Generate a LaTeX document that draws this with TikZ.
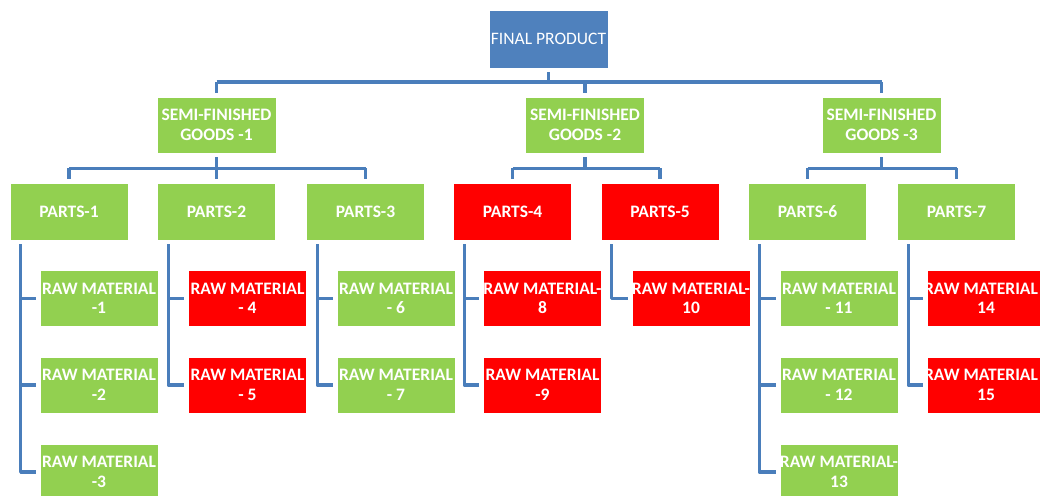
\documentclass[tikz,border=0pt]{standalone}
\usepackage{fontspec}
\setmainfont{Carlito}
\usepackage{tikz}
\usetikzlibrary{calc}
\definecolor{top}{HTML}{4F81BD}
\definecolor{leaf}{HTML}{92D050}
\definecolor{alert}{HTML}{FF0000}
\definecolor{wire}{HTML}{4A7EBB}
\newcommand\fitline[1]{\hbox to 118pt{\hss#1\hss}}
\newcommand\shiftline[1]{\hbox to 118pt{\hss#1\hskip 10pt\hss}}
\tikzset{
  box/.style={draw=white, line width=0.6pt, minimum width=118pt, minimum height=56pt,
    inner sep=0pt, align=center, text=white, font=\bfseries\fontsize{17.5}{19.5}\selectfont},
  gbox/.style={box, fill=leaf},
  rbox/.style={box, fill=alert},
  conn/.style={draw=wire, line width=3.2pt, line join=round}
}
\begin{document}
\begin{tikzpicture}[x=1pt, y=-1pt]
  \useasboundingbox (0,0) rectangle (1040,495);

  % top level
  \node[box, fill=top, minimum width=119pt, minimum height=58pt,
        font=\fontsize{17.5}{19.5}\selectfont] (fp) at (548.5,39) {FINAL PRODUCT};

  % semi-finished goods
  \node[gbox, minimum width=119pt] (sf1) at (216.5,125) {SEMI-FINISHED\\GOODS -1};
  \node[gbox, minimum width=119pt] (sf2) at (585,125) {SEMI-FINISHED\\GOODS -2};
  \node[gbox, minimum width=119pt] (sf3) at (881.5,125) {SEMI-FINISHED\\GOODS -3};

  % parts
  \node[gbox, minimum height=57pt] (p1) at (69,211.5) {PARTS-1};
  \node[gbox, minimum height=57pt] (p2) at (216.5,211.5) {PARTS-2};
  \node[gbox, minimum height=57pt] (p3) at (365.5,211.5) {PARTS-3};
  \node[rbox, minimum height=57pt] (p4) at (512.5,211.5) {PARTS-4};
  \node[rbox, minimum height=57pt] (p5) at (660,211.5) {PARTS-5};
  \node[gbox, minimum height=57pt] (p6) at (807.5,211.5) {PARTS-6};
  \node[gbox, minimum height=57pt] (p7) at (956.5,211.5) {PARTS-7};

  % raw materials
  \node[gbox] (r1) at (99,298.5) {RAW MATERIAL\\-1};
  \node[gbox] (r2) at (99,385) {RAW MATERIAL\\-2};
  \node[gbox] (r3) at (99,472) {RAW MATERIAL\\-3};
  \node[rbox] (r4) at (247.5,298.5) {RAW MATERIAL\\- 4};
  \node[rbox] (r5) at (247.5,385) {RAW MATERIAL\\- 5};
  \node[gbox] (r6) at (396,298.5) {RAW MATERIAL\\- 6};
  \node[gbox] (r7) at (396,385) {RAW MATERIAL\\- 7};
  \node[rbox] (r8) at (542.5,298.5) {\fitline{RAW MATERIAL-}\\8};
  \node[rbox] (r9) at (542.5,385) {RAW MATERIAL\\-9};
  \node[rbox] (r10) at (691,298.5) {\fitline{RAW MATERIAL-}\\10};
  \node[gbox] (r11) at (839,298.5) {RAW MATERIAL\\- 11};
  \node[gbox] (r12) at (839,385) {RAW MATERIAL\\- 12};
  \node[gbox] (r13) at (839,472) {\fitline{RAW MATERIAL-}\\13};
  \node[rbox] (r14) at (986,298.5) {\shiftline{RAW MATERIAL}\\14};
  \node[rbox] (r15) at (986,385) {\shiftline{RAW MATERIAL}\\15};

  % final product -> semi-finished
  \coordinate (bar0) at (548.5,82);
  \draw[conn] ([yshift=-4pt]fp.south) -- (fp.south |- bar0);
  \draw[conn] (sf1.north |- bar0) -- (sf3.north |- bar0);
  \foreach \s in {sf1,sf2,sf3}
    \draw[conn] (\s.north |- bar0) -- ([yshift=4pt]\s.north);

  % semi-finished -> parts
  \foreach \s/\a/\b in {sf1/p1/p3, sf2/p4/p5, sf3/p6/p7} {
    \coordinate (bar-\s) at ($(\s.south)+(0,15)$);
    \draw[conn] ([yshift=-4pt]\s.south) -- (bar-\s);
    \draw[conn] (\a.north |- bar-\s) -- (\b.north |- bar-\s);
  }
  \foreach \p in {p1,p2,p3,p4,p5,p6,p7}
    \draw[conn] (\p.north |- bar-sf1) -- ([yshift=4pt]\p.north);

  % parts -> raw materials
  \foreach \p/\r in {p1/r1, p1/r2, p1/r3, p2/r4, p2/r5, p3/r6, p3/r7, p4/r8,
                     p4/r9, p5/r10, p6/r11, p6/r12, p6/r13, p7/r14, p7/r15}
    \draw[conn] ([xshift=11pt,yshift=-4pt]\p.south west) |- ([xshift=-4pt]\r.west);
\end{tikzpicture}
\end{document}
